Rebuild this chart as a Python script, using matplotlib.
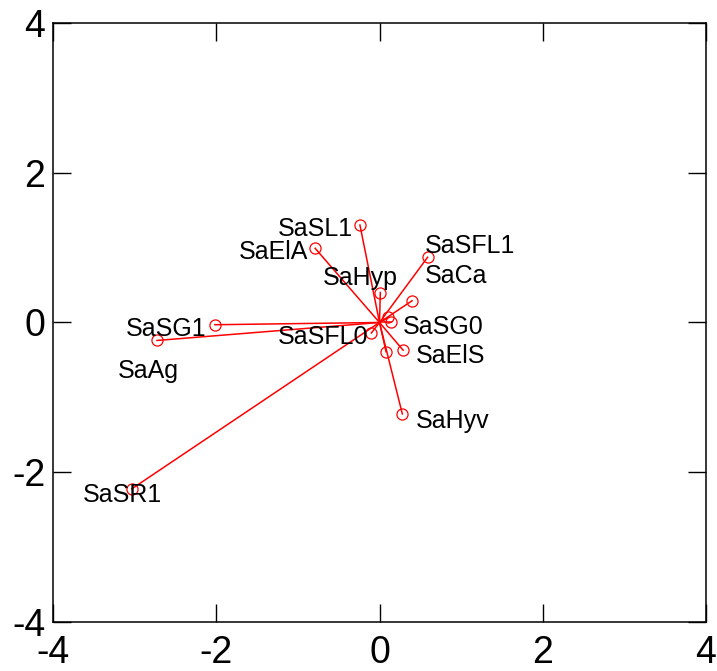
import numpy as np
import matplotlib.pyplot as plt

plt.rcParams['font.family'] = ['Liberation Sans', 'DejaVu Sans']
plt.rcParams['axes.unicode_minus'] = False

# loadings (end points of the arrows from the origin)
point_x = [-0.24, -0.79, 0.59, 0.01, 0.40, 0.14, 0.11, -0.10, 0.08, 0.29, 0.28, -2.02, -2.73, -3.04]
point_y = [1.30, 0.99, 0.87, 0.40, 0.29, 0.00, 0.07, -0.14, -0.39, -0.37, -1.22, -0.03, -0.24, -2.22]

# labels drawn next to the points
label_text = ['SaSL1', 'SaElA', 'SaSFL1', 'SaCa', 'SaHyp', 'SaSG0', 'SaSFL0',
              'SaElS', 'SaHyv', 'SaSG1', 'SaAg', 'SaSR1']
label_x = [-0.33, -0.87, 0.56, 0.56, -0.24, 0.28, -0.14, 0.44, 0.44, -2.12, -2.84, -3.16]
label_y = [1.28, 0.97, 1.06, 0.65, 0.63, -0.03, -0.16, -0.41, -1.28, -0.06, -0.62, -2.27]
label_ha = ['right', 'right', 'left', 'left', 'center', 'left', 'right',
            'left', 'left', 'right', 'center', 'center']

fig = plt.figure(figsize=(7.17, 6.71), dpi=100)
ax = fig.add_axes([0.0746, 0.0726, 0.9094, 0.8936])

for x, y in zip(point_x, point_y):
    ax.plot([0, x], [0, y], color='red', lw=1.1)
ax.plot(point_x, point_y, 'o', mfc='none', mec='red', ms=8, mew=0.9)

for t, x, y, ha in zip(label_text, label_x, label_y, label_ha):
    ax.text(x, y, t, ha=ha, va='center_baseline', fontsize=18, color='black')

ax.set_xlim(-4, 4)
ax.set_ylim(-4, 4)
ax.set_xticks([-4, -2, 0, 2, 4])
ax.set_yticks([-4, -2, 0, 2, 4])
ax.tick_params(direction='in', length=13, width=1, labelsize=27,
               top=True, right=True, pad=6)
ax.tick_params(axis='x', pad=9)
for s in ax.spines.values():
    s.set_linewidth(1.1)

fig.savefig('out.png', dpi=100)
